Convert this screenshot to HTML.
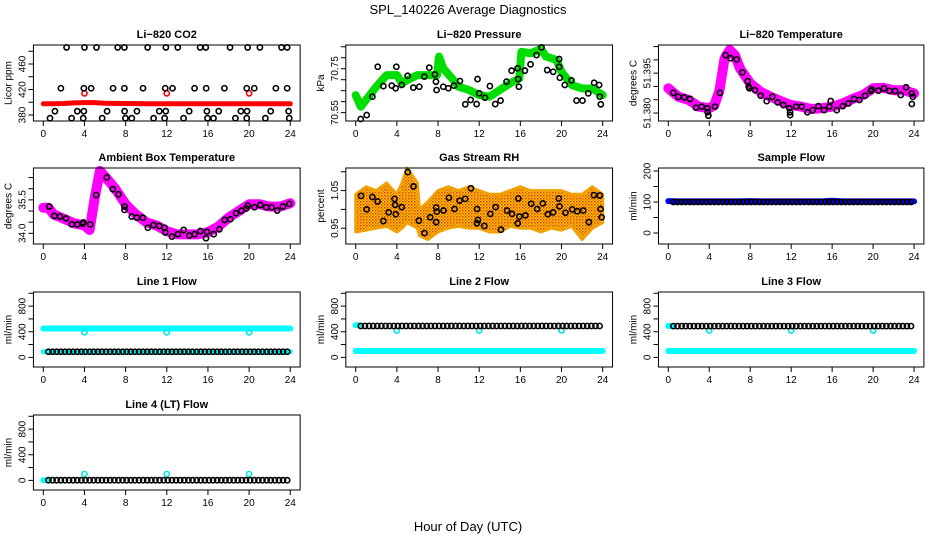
<!DOCTYPE html>
<html><head><meta charset="utf-8"><title>SPL_140226 Average Diagnostics</title>
<style>
html,body{margin:0;padding:0;background:#fff;}
svg{display:block;font-family:"Liberation Sans",Arial,sans-serif;}
</style></head>
<body>
<svg id="chart" width="936" height="540" viewBox="0 0 936 540" xmlns="http://www.w3.org/2000/svg">
<defs>
<pattern id="rhpat" width="3" height="3" patternUnits="userSpaceOnUse">
<rect width="3" height="3" fill="#ffd400"/><rect x="0" y="0" width="1.5" height="1.5" fill="#e03000"/><rect x="1.5" y="1.5" width="1.5" height="1.5" fill="#f07000"/>
</pattern>
</defs>
<text x="468" y="14" text-anchor="middle" font-size="13">SPL_140226  Average Diagnostics</text>
<text x="468" y="531" text-anchor="middle" font-size="13">Hour of Day (UTC)</text>
<g id="plots"></g>
</svg>
<script>
// ---------- data ----------
const xTicks = [0,4,8,12,16,20,24];

// Li-820 CO2
const co2TopT = [2.26,4.0,5.17,7.23,7.88,10.14,11.91,13.07,15.24,15.79,18.15,19.86,21.05,23.15,23.7];
const co2TopV = [486,486,486,486,486,486,486,486,486,486,486,486,486,486,486];
const co2MidT = [1.71,3.94,4.65,6.78,7.88,9.69,11.85,12.56,14.7,15.83,17.6,19.77,20.5,22.6,23.7];
const co2MidV = [422,422,422,422,422,422,422,422,422,422,422,422,422,422,422];
const co2LowT = [1.13,3.3,3.94,6.2,7.9,9.1,11.27,11.9,14.18,15.9,17.05,19.2,19.8,22.1,23.84];
const co2LowV = [386,386,386,386,386,386,386,386,386,386,386,386,386,386,386];
const co2BotT = [0.65,2.75,3.88,5.72,7.98,8.6,10.72,11.79,13.63,15.96,16.54,18.67,19.77,21.58,23.9];
const co2BotV = [375,375,375,375,375,375,375,375,375,375,375,375,375,375,375];
const co2RedT = [0,1,2,3,4,5,6,8,10,12,14,16,18,20,22,24];
const co2RedV = [397.5,397.5,398,399,399.5,399.5,398.5,398,397.5,397.5,397.5,397.5,397.5,397.5,397.5,397.5];
const co2RedOutT = [4,12,20];
const co2RedOutV = [414,414,414];

// Li-820 Pressure
const presLineT = [0,0.5,1,2,3,4,4.5,5,6,7,7.9,8.1,8.5,9.5,10,11,12,13,14,15,15.9,16.1,17,18,18.5,19.5,20,21,22,23,24];
const presLineV = [70.63,70.577,70.608,70.668,70.721,70.721,70.683,70.698,70.721,70.721,70.721,70.805,70.752,70.698,70.668,70.653,70.63,70.623,70.653,70.683,70.706,70.827,70.82,70.84,70.805,70.79,70.736,70.676,70.66,70.66,70.63];
const presPtT = [0.49,1.07,1.62,2.14,2.69,3.5,3.88,3.95,4.47,5.05,5.6,6.18,6.67,7.15,7.7,7.8,7.86,8.51,9.0,9.55,10.13,10.65,11.17,11.75,11.84,12.0,12.56,13.04,13.56,14.08,14.66,15.15,15.73,15.79,15.86,16.44,16.99,17.57,18.06,18.61,19.19,19.77,19.77,19.84,20.32,20.97,21.46,22.04,22.6,23.17,23.66,23.72,23.82];
const presPtV = [70.521,70.539,70.623,70.759,70.671,70.673,70.661,70.759,70.676,70.718,70.664,70.668,70.714,70.755,70.724,70.691,70.653,70.668,70.661,70.673,70.694,70.588,70.608,70.589,70.703,70.638,70.618,70.671,70.589,70.605,70.691,70.741,70.752,70.703,70.668,70.741,70.77,70.812,70.847,70.744,70.736,70.759,70.794,70.709,70.676,70.697,70.605,70.605,70.638,70.686,70.676,70.623,70.588];

// Li-820 Temperature
const ltLineT = [0,1,2,3,4,4.5,5,5.5,6,6.5,7,8,9,10,11,12,13,14,15,16,17,18,19,20,21,22,23,24];
const ltLineV = [51.3893,51.3861,51.3849,51.3824,51.3818,51.383,51.3886,51.4006,51.4037,51.4018,51.3968,51.3912,51.388,51.3861,51.3845,51.383,51.3824,51.3815,51.3818,51.3824,51.3836,51.3853,51.3868,51.3893,51.3895,51.3886,51.3886,51.3874];
const ltPtT = [0.49,0.98,1.56,2.12,2.7,3.26,3.81,3.84,3.91,4.56,5.05,5.6,6.09,6.68,7.23,7.75,7.85,7.92,8.47,9.02,9.61,10.16,10.68,11.24,11.82,11.89,11.9,12.48,13.03,13.58,14.1,14.66,15.21,15.73,15.86,16.45,17.04,17.59,18.14,18.66,19.22,19.77,19.87,20.52,21.07,21.6,22.15,22.7,23.22,23.78,23.88,23.78];
const ltPtV = [51.3876,51.3861,51.3859,51.3853,51.382,51.3824,51.3818,51.3803,51.379,51.3824,51.3876,51.4018,51.4006,51.4002,51.3953,51.392,51.3899,51.3893,51.3886,51.3865,51.3845,51.3861,51.384,51.383,51.3818,51.3803,51.3792,51.3824,51.3824,51.3803,51.3811,51.3826,51.3811,51.3824,51.3845,51.3811,51.3826,51.3836,51.3853,51.3849,51.3865,51.3883,51.3889,51.3884,51.3893,51.3883,51.3883,51.3868,51.3897,51.3874,51.3861,51.3834];

// Ambient Box Temperature
const abLineT = [0,0.5,1,2,3,4,4.5,5,5.5,6,7,8,9,10,11,12,13,14,15,16,17,18,19,20,21,22,23,24];
const abLineV = [35.15,35.15,34.85,34.65,34.45,34.35,34.15,35.6,36.8,36.55,36.0,35.3,34.85,34.5,34.35,34.1,33.95,33.95,33.95,34.05,34.3,34.7,35.0,35.3,35.3,35.2,35.2,35.35];
const abPtT = [0.58,1.07,1.62,2.21,2.76,3.31,3.8,3.9,4.55,5.13,6.17,6.75,7.31,7.89,7.89,8.6,9.09,9.68,10.16,10.71,11.27,11.79,11.85,12.5,13.08,13.64,14.19,14.71,15.26,15.81,15.91,16.56,17.11,17.63,18.18,18.73,19.25,19.74,19.87,20.52,21.1,21.66,22.18,22.73,23.28,23.9];
const abPtV = [35.2,34.78,34.75,34.67,34.4,34.4,34.43,34.49,34.4,35.72,36.51,35.98,35.75,35.2,35.05,34.75,34.7,34.7,34.25,34.37,34.33,34.25,34.04,33.85,33.96,34.15,33.9,33.96,34.1,33.78,34.07,33.96,34.18,34.6,34.63,34.9,35.01,35.12,35.24,35.17,35.27,35.17,35.17,35.02,35.2,35.32];

// Gas Stream RH
const rhEnvT = [0,1,2,3,4,4.5,5,6,6.2,7,8,9,10,11,12,13,14,15,16,17,18,19,20,21,22,23,24];
const rhUpper = [1.04,1.06,1.05,1.07,1.04,1.07,1.11,1.07,1.0,1.02,1.05,1.06,1.05,1.06,1.05,1.04,1.04,1.05,1.06,1.05,1.05,1.05,1.05,1.04,1.04,1.06,1.04];
const rhLower = [0.94,0.945,0.95,0.955,0.94,0.95,0.965,0.95,0.93,0.92,0.94,0.95,0.955,0.95,0.95,0.94,0.94,0.955,0.95,0.95,0.94,0.95,0.945,0.955,0.92,0.95,0.965];
const rhPtT = [0.52,1.07,1.62,2.14,2.69,3.21,3.77,3.83,3.9,4.48,5.06,5.62,6.14,6.69,7.24,7.82,7.82,7.89,8.54,9.06,9.61,10.1,10.65,11.2,11.79,11.79,11.88,12.5,13.08,13.6,14.12,14.71,15.19,15.81,15.75,15.91,16.49,17.05,17.63,18.18,18.67,19.19,19.74,19.81,20.39,21.04,21.53,22.11,22.66,23.15,23.73,23.8,23.9];
const rhPtV = [1.036,1.0,1.033,1.021,0.969,0.992,1.028,1.012,0.987,1.006,1.099,1.061,0.97,0.937,0.979,0.966,1.005,0.994,0.997,1.031,1.001,1.023,1.028,1.056,1.001,0.963,0.972,0.956,0.988,1.006,0.946,0.997,0.988,1.029,0.963,0.981,0.984,1.015,1.001,1.016,0.987,0.992,1.029,1.008,0.991,1.0,0.995,0.997,0.966,1.038,1.037,1.001,0.979];

// Flows (hourly levels, hours 0..24)
const sampleBlue  = [103,102,102,102,102,102,102,102,103,102,102,102,102,102,102,102,104,102,102,102,102,102,102,102,102];
const sampleBlack = [100,100,100,100,100,100,100,100,100,100,100,100,100,100,100,100,100,100,100,100,100,100,100,100,100];
const line1Cyan   = [450,450,450,450,450,450,450,450,450,450,450,450,450,450,450,450,450,450,450,450,450,450,450,450,450];
const line1Black  = [88,88,88,88,88,88,88,88,88,88,88,88,88,88,88,88,88,88,88,88,88,88,88,88,88];
const line2Black  = [490,490,490,490,490,490,490,490,490,490,490,490,490,490,490,490,490,490,490,490,490,490,490,490,490];
const line2Cyan   = [100,100,100,100,100,100,100,100,100,100,100,100,100,100,100,100,100,100,100,100,100,100,100,100,100];
const line3Black  = [488,488,488,488,488,488,488,488,488,488,488,488,488,488,488,488,488,488,488,488,488,488,488,488,488];
const line3Cyan   = [100,100,100,100,100,100,100,100,100,100,100,100,100,100,100,100,100,100,100,100,100,100,100,100,100];
const line4Black  = [3,3,3,3,3,3,3,3,3,3,3,3,3,3,3,3,3,3,3,3,3,3,3,3,3];
const outT = [4,12,20];
const line1Out = [390,390,390];
const line2Out = [420,420,420];
const line3Out = [420,420,420];
const line4Out = [100,100,100];
const line1Start = [88]; const line2Start = [500]; const line3Start = [490]; const line4Start = [3];

// ---------- drawing ----------
const NS = "http://www.w3.org/2000/svg";
const root = document.getElementById('plots');
const cols = [{x0:43.3,pph:10.29},{x0:355.7,pph:10.29},{x0:668.3,pph:10.24}];
const rows = [[45,121],[168,244],[292,367],[415,490]];

function mk(tag, parent, attrs){
  const e = document.createElementNS(NS, tag);
  for (const k in attrs) e.setAttribute(k, attrs[k]);
  parent.appendChild(e);
  return e;
}

function panel(ci, ri, name, title, ylab, dom, ticks, labels){
  const c = cols[ci], r = rows[ri];
  const left = c.x0 - 0.96*c.pph, right = c.x0 + 24.96*c.pph;
  const top = r[0], bot = r[1];
  const g = mk('g', root, {});
  
  
  const X = t => c.x0 + t*c.pph;
  const Y = v => bot - (v - dom[0])/(dom[1]-dom[0])*(bot-top);
  const tt = mk('text', g, {x:(left+right)/2, y:top-7, 'text-anchor':'middle','font-size':11,'font-weight':'bold'});
  tt.textContent = title;
  
  
  const yl = mk('text', g, {transform:`translate(${left-22},${(top+bot)/2}) rotate(-90)`, 'text-anchor':'middle','font-size':10});
  yl.textContent = ylab;
  
  
  const plot = mk('g', g, {});
  
  
  const axes = mk('g', g, {});
  
  
  const box = mk('rect', axes, {x:left, y:top, width:right-left, height:bot-top, fill:'none', stroke:'#000','stroke-width':1});
  
  
  xTicks.forEach(t=>{
    mk('line', axes, {x1:X(t),x2:X(t),y1:bot,y2:bot+5,stroke:'#000'});
    const lt = mk('text', axes, {x:X(t), y:bot+16, 'text-anchor':'middle','font-size':10});
    lt.textContent = t;
    
    
  });
  ticks.forEach((v,i)=>{
    mk('line', axes, {x1:left-5,x2:left,y1:Y(v),y2:Y(v),stroke:'#000'});
    if (labels[i]) {
      const lt = mk('text', axes, {transform:`translate(${left-8},${Y(v)}) rotate(-90)`, 'text-anchor':'middle','font-size':10});
      lt.textContent = labels[i];
      
      
    }
  });
  return {g:plot, X, Y};
}

function band(p, T, V, color, w, nm){
  const pts = T.map((t,i)=>p.X(t).toFixed(1)+','+p.Y(V[i]).toFixed(1)).join(' ');
  const e = mk('polyline', p.g, {points:pts, fill:'none', stroke:color, 'stroke-width':w, 'stroke-linejoin':'round','stroke-linecap':'round'});
  
  
}
function pts(p, T, V, color, nm, r){
  T.forEach((t,i)=>{
    const e = mk('circle', p.g, {cx:p.X(t), cy:p.Y(V[i]), r:r||2.6, fill:'none', stroke:color, 'stroke-width':1.6});
    
    
  });
}
function hourlyPts(p, H, color, nm, t0, t1, step){
  for (let t=t0; t<=t1+1e-6; t+=step){
    const e = mk('circle', p.g, {cx:p.X(t), cy:p.Y(H[Math.round(t)]), r:2.6, fill:'none', stroke:color, 'stroke-width':1.6});
    
    
  }
}
const hours = [0,1,2,3,4,5,6,7,8,9,10,11,12,13,14,15,16,17,18,19,20,21,22,23,24];

// CO2
let p = panel(0,0,'co2','Li\u2212820 CO2','Licor ppm',[370.6,489.8],[380,400,420,440,460,480],['380','','420','','460','']);
band(p, co2RedT, co2RedV, '#ff0000', 5, 'co2-series-red');
pts(p, co2RedOutT, co2RedOutV, '#ff0000', 'co2-red-outlier');
pts(p, co2TopT, co2TopV, '#000', 'co2-point');
pts(p, co2MidT, co2MidV, '#000', 'co2-point');
pts(p, co2LowT, co2LowV, '#000', 'co2-point');
pts(p, co2BotT, co2BotV, '#000', 'co2-point');

// Pressure
p = panel(1,0,'pressure','Li\u2212820 Pressure','kPa',[70.512,70.858],[70.55,70.60,70.65,70.70,70.75,70.80,70.85],['70.55','','','','70.75','','']);
band(p, presLineT, presLineV, '#00dd00', 8, 'pressure-series-green');
pts(p, presPtT, presPtV, '#000', 'pressure-point');

// Li-820 Temperature
p = panel(2,0,'li820-temp','Li\u2212820 Temperature','degrees C',[51.377,51.4056],[51.380,51.385,51.390,51.395,51.400,51.405],['51.380','','','51.395','','']);
band(p, ltLineT, ltLineV, '#ff00ff', 10, 'li820-temp-series-magenta');
pts(p, ltPtT, ltPtV, '#000', 'li820-temp-point');

// Ambient
p = panel(0,1,'ambient-temp','Ambient Box Temperature','degrees C',[33.52,36.93],[34.0,34.5,35.0,35.5,36.0,36.5],['34.0','','','35.5','','']);
band(p, abLineT, abLineV, '#ff00ff', 10, 'ambient-temp-series-magenta');
pts(p, abPtT, abPtV, '#000', 'ambient-temp-point');

// RH
p = panel(1,1,'rh','Gas Stream RH','percent',[0.908,1.110],[0.95,1.00,1.05,1.10],['0.95','','1.05','']);
{
  const up = rhEnvT.map((t,i)=>p.X(t).toFixed(1)+','+p.Y(rhUpper[i]).toFixed(1));
  const lo = rhEnvT.map((t,i)=>p.X(t).toFixed(1)+','+p.Y(rhLower[i]).toFixed(1)).reverse();
  const e = mk('polygon', p.g, {points:up.concat(lo).join(' '), fill:'url(#rhpat)', stroke:'#f0a000','stroke-width':3,'stroke-linejoin':'round'});
  
  
}
pts(p, rhPtT, rhPtV, '#000', 'rh-point');

// Sample flow
p = panel(2,1,'sample-flow','Sample Flow','ml/min',[-35.5,209.7],[0,50,100,150,200],['0','','100','','200']);
band(p, hours, sampleBlue, '#0000ff', 6, 'sample-flow-series-blue');
hourlyPts(p, sampleBlack, '#000', 'sample-flow-point', 0.5, 23.9, 0.4);

const fTicks = [0,200,400,600,800,1000], fLabels = ['0','','400','','800',''];
// Line 1
p = panel(0,2,'line1-flow','Line 1 Flow','ml/min',[-150,1020],fTicks,fLabels);
band(p, hours, line1Cyan, '#00ffff', 6, 'line1-series-cyan');
band(p, hours, line1Black, '#00ffff', 5, 'line1-series-cyan-low');
pts(p, outT, line1Out, '#00e5e5', 'line1-cyan-outlier');
hourlyPts(p, line1Black, '#000', 'line1-point', 0.5, 23.9, 0.4);

// Line 2
p = panel(1,2,'line2-flow','Line 2 Flow','ml/min',[-150,1020],fTicks,fLabels);
band(p, hours, line2Cyan, '#00ffff', 6, 'line2-series-cyan');
band(p, [0,0.3], [line2Start[0],line2Start[0]], '#00ffff', 6, 'line2-series-cyan-start');
pts(p, outT, line2Out, '#00e5e5', 'line2-cyan-outlier');
hourlyPts(p, line2Black, '#000', 'line2-point', 0.5, 23.9, 0.4);

// Line 3
p = panel(2,2,'line3-flow','Line 3 Flow','ml/min',[-150,1020],fTicks,fLabels);
band(p, hours, line3Cyan, '#00ffff', 6, 'line3-series-cyan');
band(p, [0,0.3], [line3Start[0],line3Start[0]], '#00ffff', 6, 'line3-series-cyan-start');
pts(p, outT, line3Out, '#00e5e5', 'line3-cyan-outlier');
hourlyPts(p, line3Black, '#000', 'line3-point', 0.5, 23.9, 0.4);

// Line 4
p = panel(0,3,'line4-flow','Line 4 (LT) Flow','ml/min',[-150,1020],fTicks,fLabels);
band(p, [0,0.3], [line4Start[0],line4Start[0]], '#00ffff', 6, 'line4-series-cyan-start');
pts(p, outT, line4Out, '#00e5e5', 'line4-cyan-outlier');
hourlyPts(p, line4Black, '#000', 'line4-point', 0.5, 23.9, 0.4);
</script>
</body></html>
